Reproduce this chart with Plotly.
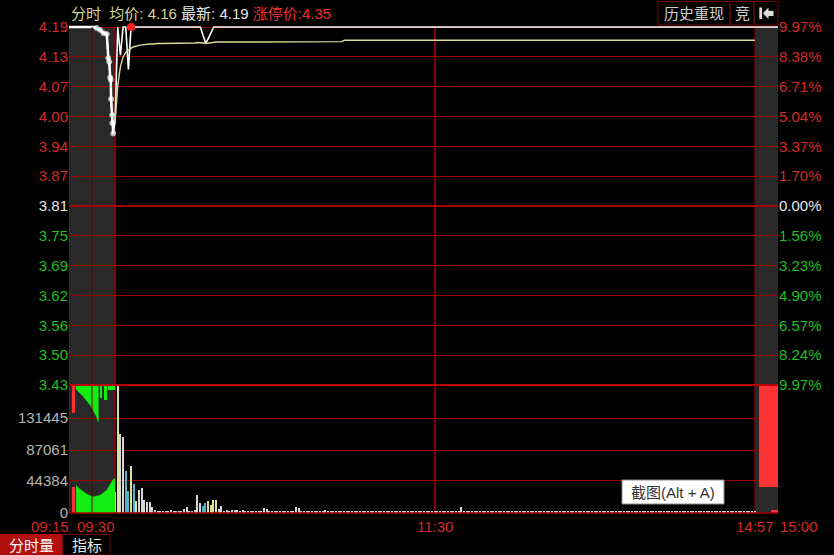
import plotly.graph_objects as go

# ---------------- axis / text data ----------------
LIMIT_DOWN, PREV_CLOSE, LIMIT_UP = 3.43, 3.81, 4.19
price_labels = ["3.43", "3.50", "3.56", "3.62", "3.69", "3.75", "3.81",
                "3.87", "3.94", "4.00", "4.07", "4.13", "4.19"]
pct_labels = ["9.97%", "8.24%", "6.57%", "4.90%", "3.23%", "1.56%", "0.00%",
              "1.70%", "3.37%", "5.04%", "6.71%", "8.38%", "9.97%"]
vol_tick_values = [0, 44384, 87061, 131445]
vol_tick_labels = ["0", "44384", "87061", "131445"]
time_labels = ["09:15", "09:30", "11:30", "14:57", "15:00"]
time_slots = ["auction_start", 0, 120, 240, "close_end"]
header_avg, header_last, header_limit = "4.16", "4.19", "4.35"

# ---------------- call auction 09:15-09:30 (minutes after 09:15) ----------------
auction_min = [0, 2, 4, 6, 8, 9.0, 10.1, 11.2, 12.3, 12.8, 13.1, 13.4, 13.6, 13.7, 14.05, 14.1, 14.4]
auction_price = [4.19, 4.19, 4.19, 4.19, 4.19, 4.188, 4.184, 4.177, 4.175, 4.124, 4.116,
                 4.083, 4.078, 4.037, 4.003, 3.986, 3.964]
auction_match_min = [2.3, 3.6, 5.8, 7.9, 10.1, 12.3, 14.4, 15.0]
auction_match_vol = [38300, 32900, 26000, 22300, 24600, 31500, 46500, 48000]
auction_unmatched_min = [2.3, 4.7, 6.9, 9.0, 9.55]
auction_unmatched_vol = [5500, 16200, 27700, 44000, 50900]
auction_tail_min = [10.5, 12.0, 13.8]
auction_tail_vol = [18000, 20800, 6900]
auction_tail_span = [0.8, 0.9, 2.2]
auction_red_min = [1.6]
auction_red_unmatched = [38800]
auction_red_matched = [36500]

# ---------------- continuous session, minute index 0..240 ----------------
price = ([3.99, 4.19, 4.13, 4.19, 4.19, 4.10]
         + [4.19] * 27
         + [4.172, 4.156, 4.166, 4.178]
         + [4.19] * 204)
avg_price = ([3.99, 4.065, 4.106, 4.126, 4.136, 4.141, 4.145, 4.148, 4.150, 4.151, 4.152,
              4.153, 4.153, 4.154, 4.154, 4.155, 4.155, 4.155, 4.155, 4.155, 4.156]
             + [4.156] * 10
             + [4.157, 4.157, 4.156, 4.155, 4.156, 4.157, 4.158, 4.158, 4.158, 4.158]
             + [4.159] * 45
             + [4.162] * 155)
volume = [29500,
          182000, 109500, 105800, 58900, 30500, 65700, 40600, 16800, 32000, 35200,
          17800, 14600, 14600, 8500, 3500, 3200, 3000, 3300, 2800, 3200,
          3600, 3000, 2900, 3100, 3400, 5000, 7800, 3200, 3000, 4000,
          24600, 13300, 9600, 13300, 16000, 11600, 17800, 17800, 6200, 9600,
          3200, 4500, 3000, 4300, 3800, 4200, 2600, 3600, 2200, 2400,
          2800, 3200, 2100, 2600, 3000, 6800, 5200, 2200, 2000, 2100,
          1800, 2000, 2300, 1900, 2200, 2000, 2400, 8200, 7000, 2100,
          1800, 2000, 1900, 2200, 1700, 2000, 2300, 2600, 3500, 3400,
          2400, 1800, 1600, 1900, 1700, 2000, 1800, 1500, 1900, 1700,
          1600, 1800, 1500, 1700, 2000, 1600, 1500, 1800, 1700, 1600,
          1900, 1500, 1700, 1600, 1800, 1500, 1700, 1900, 1600, 1500,
          1700, 1600, 1800, 1500, 1600, 1700, 1500, 1800, 1600, 2200,
          1800, 1600, 1500, 1700, 1600, 1800, 1500, 1700, 1600, 8000,
          1900, 1600, 1500, 1700, 1800, 1600, 1500, 1700, 1600, 1500,
          1700, 1600, 1800, 1500, 1600, 1700, 1500, 1600, 1800, 1500,
          1600, 1700, 1500, 1800, 1600, 1500, 1700, 1600, 1500, 1700,
          1600, 1800, 1500, 1700, 1600, 1500, 1600, 1800, 1700, 1500,
          1600, 1500, 1700, 1600, 1800, 1500, 1600, 1700, 1500, 1600,
          1800, 1600, 1500, 1700, 1600, 1500, 1800, 1600, 1700, 1500,
          1600, 1700, 1500, 1600, 1800, 1500, 1700, 1600, 1500, 1600,
          1700, 1500, 1600, 1800, 1600, 1500, 1700, 1600, 1500, 1700,
          1600, 1500, 1800, 1600, 1700, 1500, 1600, 2200, 1800, 3200,
          1700, 1600, 1500, 1800, 1600, 1500, 1700, 1600, 1800, 1500,
          1600, 1700, 1500, 1600, 1800, 1700, 1600, 1500, 1900, 2400]
buy_minutes = [1, 6, 8, 35, 36, 37, 38]
sell_minutes = [4, 5, 7, 33, 34]
limit_seal_minute = [6]

# ---------------- closing auction 14:57-15:00 (minutes after 14:57) ----------------
close_min = [3.0]
close_price = [4.19]
close_unmatched_min = [1.75]
close_unmatched_vol = [142000]
close_unmatched_span = [2.5]
close_match_min = [2.5]
close_match_vol = [4200]
close_match_span = [0.9]

# ---------------- scales ----------------
L_STRIP = 17.28          # axis units of the 09:15-09:30 strip
R_STRIP = 8.64           # axis units of the 14:57-15:00 strip
VMAX = 177500
PX_L, PX_R, PX_T, PX_B = 69, 778, 25, 513
PRICE_TOP = LIMIT_UP + (LIMIT_UP - LIMIT_DOWN) / 358 * 2
D = (PX_B - 385) / (PX_B - PX_T)


def pa(m):
    return -L_STRIP + m * L_STRIP / 15.0


def pc(m):
    return 240 + m * R_STRIP / 3.0


def fx(p):
    return (p - PX_L) / (PX_R - PX_L)


def fy(p):
    return (PX_B - p) / (PX_B - PX_T)


RED, GREEN, WHITE, GRAY = "#d42a2a", "#1fbf1f", "#e8e8e8", "#b4b4b4"
GRID = "#9a0000"
FONT = "Liberation Sans, Arial, Noto Sans CJK SC"


def tick_color(i, mid):
    return GREEN if i < mid else (WHITE if i == mid else RED)


n = len(price_labels)
mid = n // 2
price_tickvals = [LIMIT_DOWN + i * (LIMIT_UP - LIMIT_DOWN) / (n - 1) for i in range(n)]
price_ticktext = [f"<span style='color:{tick_color(i, mid)}'>{t}</span>" for i, t in enumerate(price_labels)]
pct_ticktext = [f"<span style='color:{tick_color(i, mid)}'>{t}</span>" for i, t in enumerate(pct_labels)]

fig = go.Figure()

# ---- price panel ----
line_x = [pa(m) for m in auction_min] + list(range(len(price))) + [pc(m) for m in close_min]
line_y = auction_price + price + close_price
fig.add_trace(go.Scatter(x=line_x, y=line_y, mode="lines",
                         line=dict(color="#ffffff", width=1.6), xaxis="x", yaxis="y"))
fig.add_trace(go.Scatter(x=[pa(m) for m in auction_min], y=auction_price, mode="lines+markers",
                         line=dict(color="#ffffff", width=2.5),
                         marker=dict(color="#ffffff", size=[0 if m < 9 else 5 for m in auction_min]),
                         cliponaxis=False, xaxis="x", yaxis="y"))
fig.add_trace(go.Scatter(x=list(range(len(avg_price))), y=avg_price, mode="lines",
                         line=dict(color="#dcdc96", width=1.4), xaxis="x", yaxis="y"))
fig.add_trace(go.Scatter(x=limit_seal_minute, y=[price[k] for k in limit_seal_minute], mode="markers",
                         marker=dict(color="#ff2020", size=8), cliponaxis=False, xaxis="x", yaxis="y"))

# ---- volume panel: call auction ----
fig.add_trace(go.Scatter(x=[pa(m) for m in auction_match_min], y=auction_match_vol, mode="lines",
                         fill="tozeroy", fillcolor="#12ee12", line=dict(color="#12ee12", width=0.5),
                         xaxis="x", yaxis="y2"))
ux = [pa(auction_unmatched_min[0])] + [pa(m) for m in auction_unmatched_min] + [pa(auction_unmatched_min[-1])]
uy = [VMAX] + [VMAX - v for v in auction_unmatched_vol] + [VMAX]
fig.add_trace(go.Scatter(x=ux, y=uy, mode="lines", fill="toself", fillcolor="#12ee12",
                         line=dict(color="#12ee12", width=0.5), xaxis="x", yaxis="y2"))
fig.add_trace(go.Bar(x=[pa(m) for m in auction_tail_min], y=auction_tail_vol,
                     base=[VMAX - v for v in auction_tail_vol],
                     width=[s * L_STRIP / 15 for s in auction_tail_span],
                     marker=dict(color="#12ee12", line=dict(width=0)), xaxis="x", yaxis="y2"))
fig.add_trace(go.Bar(x=[pa(m) for m in auction_red_min] * 2,
                     y=auction_red_unmatched + auction_red_matched,
                     base=[VMAX - v for v in auction_red_unmatched] + [0] * len(auction_red_matched),
                     width=0.7, marker=dict(color="#ff3030", line=dict(width=0)), xaxis="x", yaxis="y2"))

# ---- volume panel: continuous session ----
vol_colors = []
for k in range(len(volume)):
    if k in buy_minutes:
        vol_colors.append("#e0e09a")
    elif k in sell_minutes:
        vol_colors.append("#4fb4c4")
    else:
        vol_colors.append("#d8d8d8")
fig.add_trace(go.Bar(x=list(range(len(volume))), y=volume, width=0.55,
                     marker=dict(color=vol_colors, line=dict(width=0)), xaxis="x", yaxis="y2"))

# ---- volume panel: closing auction ----
fig.add_trace(go.Bar(x=[pc(m) for m in close_unmatched_min], y=close_unmatched_vol,
                     base=[VMAX - v for v in close_unmatched_vol],
                     width=[s * R_STRIP / 3 for s in close_unmatched_span],
                     marker=dict(color="#ff3333", line=dict(width=0)), xaxis="x", yaxis="y2"))
fig.add_trace(go.Bar(x=[pc(m) for m in close_match_min], y=close_match_vol,
                     width=[s * R_STRIP / 3 for s in close_match_span],
                     marker=dict(color="#ff3333", line=dict(width=0)), xaxis="x", yaxis="y2"))

# ---------------- layout ----------------
tickfont = dict(family=FONT, size=15)
fig.update_layout(
    width=834, height=555,
    margin=dict(l=PX_L, r=834 - PX_R, t=PX_T, b=555 - PX_B, pad=0),
    paper_bgcolor="#000000", plot_bgcolor="#000000",
    showlegend=False, hovermode=False, barmode="overlay", bargap=0,
    xaxis=dict(range=[-L_STRIP, 240 + R_STRIP], showgrid=False, zeroline=False,
               showticklabels=False, showline=False, fixedrange=True),
    yaxis=dict(domain=[D, 1], range=[LIMIT_DOWN, PRICE_TOP], tickvals=price_tickvals,
               ticktext=price_ticktext, showgrid=True, gridcolor=GRID, gridwidth=1.2,
               zeroline=False, showline=False, ticks="", tickfont=tickfont, fixedrange=True),
    yaxis2=dict(domain=[0, D], range=[0, VMAX], anchor="x", tickvals=vol_tick_values,
                ticktext=vol_tick_labels, showgrid=True, gridcolor=GRID, gridwidth=1.2,
                zeroline=False, showline=False, ticks="", tickfont=dict(family=FONT, size=15, color=GRAY),
                fixedrange=True),
    yaxis3=dict(overlaying="y", side="right", anchor="x", range=[LIMIT_DOWN, PRICE_TOP],
                tickvals=price_tickvals, ticktext=pct_ticktext, showgrid=False, zeroline=False,
                showline=False, ticks="", tickfont=tickfont, fixedrange=True),
)
# invisible trace so the right-hand percent axis renders
fig.add_trace(go.Scatter(x=[0], y=[PREV_CLOSE], mode="markers", marker=dict(size=0.1, opacity=0),
                         xaxis="x", yaxis="y3"))

shapes = []
top_p = fy(27)
# grey auction strips
for x0, x1 in [(-L_STRIP, 0), (240, 240 + R_STRIP)]:
    shapes.append(dict(type="rect", xref="x", yref="paper", x0=x0, x1=x1, y0=0, y1=top_p,
                       fillcolor="#292929", line=dict(width=0), layer="below"))
# vertical lines
for xv, w, c in [(-L_STRIP, 1.5, "#a80000"), (0, 1.5, "#9a0000"), (120, 1.6, "#aa0000"),
                 (240, 1.2, "#800000"), (240 + R_STRIP, 1.5, "#9a0000")]:
    shapes.append(dict(type="line", xref="x", yref="paper", x0=xv, x1=xv, y0=0, y1=top_p,
                       line=dict(color=c, width=w), layer="below"))
shapes.append(dict(type="line", xref="x", yref="paper", x0=pa(7.5), x1=pa(7.5), y0=0, y1=top_p,
                   line=dict(color="#5a0000", width=1), layer="above"))
# previous close mid line & panel boundary & baseline
shapes.append(dict(type="line", xref="paper", yref="y", x0=0, x1=1, y0=PREV_CLOSE, y1=PREV_CLOSE,
                   line=dict(color="#b80000", width=2.2), layer="below"))
shapes.append(dict(type="line", xref="paper", yref="paper", x0=0, x1=1, y0=D, y1=D,
                   line=dict(color="#bb0000", width=2), layer="above"))
shapes.append(dict(type="line", xref="paper", yref="paper", x0=0, x1=1, y0=0, y1=0,
                   line=dict(color="#a80000", width=1.5), layer="above"))
# top-right buttons
for a, b in [(658, 730), (730, 754), (754, 778)]:
    shapes.append(dict(type="rect", xref="paper", yref="paper", x0=fx(a), x1=fx(b), y0=fy(25), y1=fy(1.5),
                       line=dict(color="#6a0a0a", width=1), fillcolor="rgba(0,0,0,0)"))
# back-arrow icon
shapes.append(dict(type="rect", xref="paper", yref="paper", x0=fx(759.3), x1=fx(762), y0=fy(19), y1=fy(7.5),
                   fillcolor="#dcdcdc", line=dict(width=0)))
shapes.append(dict(type="path", xref="paper", yref="paper",
                   path=f"M {fx(762.8)},{fy(13.3)} L {fx(768.5)},{fy(7.5)} L {fx(768.5)},{fy(19)} Z",
                   fillcolor="#dcdcdc", line=dict(width=0)))
shapes.append(dict(type="rect", xref="paper", yref="paper", x0=fx(768), x1=fx(773.5), y0=fy(16), y1=fy(10.8),
                   fillcolor="#dcdcdc", line=dict(width=0)))
# screenshot tooltip box
shapes.append(dict(type="rect", xref="paper", yref="paper", x0=fx(622), x1=fx(724), y0=fy(504), y1=fy(480),
                   fillcolor="#ffffff", line=dict(color="#8a8a8a", width=1)))
# bottom tabs
shapes.append(dict(type="rect", xref="paper", yref="paper", x0=fx(0), x1=fx(62), y0=fy(555), y1=fy(534.5),
                   fillcolor="#b30f0f", line=dict(color="#b30f0f", width=1)))
shapes.append(dict(type="rect", xref="paper", yref="paper", x0=fx(63), x1=fx(110), y0=fy(555), y1=fy(534.5),
                   fillcolor="#000000", line=dict(color="#6a0808", width=1)))
fig.update_layout(shapes=shapes)

ann = []
nb = "\u00a0"
header = (f"<span style='color:#d6d39a'>分时{nb}{nb}均价:{nb}{header_avg}</span>{nb}"
          f"<span style='color:#e6e6e6'>最新:{nb}{header_last}</span>{nb}"
          f"<span style='color:#e83030'>涨停价:{header_limit}</span>")
ann.append(dict(text=header, xref="paper", yref="paper", x=fx(69), y=fy(13.5), xanchor="left",
                yanchor="middle", showarrow=False, font=dict(family=FONT, size=15)))
ann.append(dict(text="历史重现", xref="paper", yref="paper", x=fx(694), y=fy(13.5), xanchor="center",
                yanchor="middle", showarrow=False, font=dict(family=FONT, size=15, color="#cfcfcf")))
ann.append(dict(text="竞", xref="paper", yref="paper", x=fx(742), y=fy(13.5), xanchor="center",
                yanchor="middle", showarrow=False, font=dict(family=FONT, size=15, color="#cfcfcf")))
slot_pos = {"auction_start": -L_STRIP, "close_end": 240 + R_STRIP}
anchors = ["right", "right", "center", "center", "left"]
for lab, slot, anc in zip(time_labels, time_slots, anchors):
    xv = slot_pos.get(slot, slot)
    ann.append(dict(text=lab, xref="x", yref="paper", x=xv, y=fy(526), xanchor=anc, yanchor="middle",
                    xshift=(2 if anc == "right" else 0), showarrow=False,
                    font=dict(family=FONT, size=15, color="#cf2a2a")))
ann.append(dict(text="截图(Alt + A)", xref="paper", yref="paper", x=fx(673), y=fy(492), xanchor="center",
                yanchor="middle", showarrow=False, font=dict(family=FONT, size=15, color="#333333")))
ann.append(dict(text="分时量", xref="paper", yref="paper", x=fx(31), y=fy(545), xanchor="center",
                yanchor="middle", showarrow=False, font=dict(family=FONT, size=15, color="#ffffff")))
ann.append(dict(text="指标", xref="paper", yref="paper", x=fx(86.5), y=fy(545), xanchor="center",
                yanchor="middle", showarrow=False, font=dict(family=FONT, size=15, color="#e6e6e6")))
fig.update_layout(annotations=ann)

fig.write_html("out.html")
